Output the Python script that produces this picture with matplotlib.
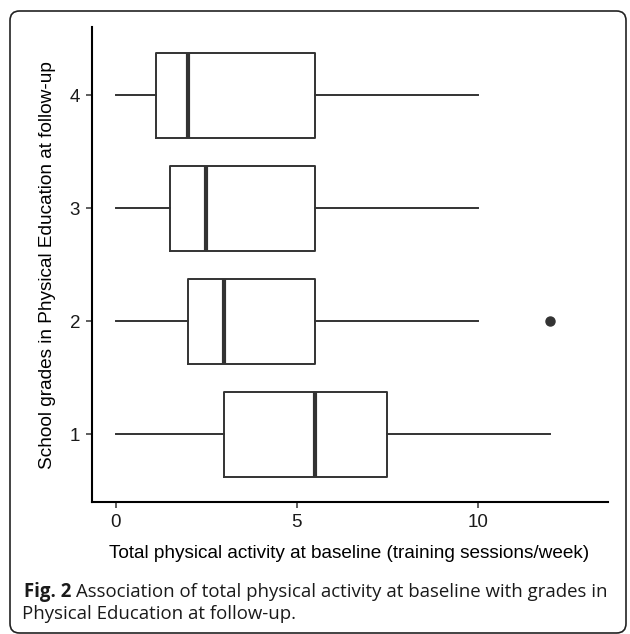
import matplotlib.pyplot as plt
from matplotlib.patches import FancyBboxPatch

# grades in PE at follow-up (y) vs training sessions/week at baseline (x)
grades = ['1', '2', '3', '4']
whisker_low = [0, 0, 0, 0]
q1 = [3, 2, 1.5, 1.1]
median = [5.5, 3, 2.5, 2]
q3 = [7.5, 5.5, 5.5, 5.5]
whisker_high = [12, 10, 10, 10]
outliers = [[], [12], [], []]

W, H = 630, 634
fig = plt.figure(figsize=(W / 100, H / 100), dpi=100)
ax = fig.add_axes([92 / W, 1 - 502.3 / H, (608 - 92) / W, (502.3 - 27.3) / H])

stats = []
for i, g in enumerate(grades):
    stats.append(dict(label=g, whislo=whisker_low[i], q1=q1[i], med=median[i],
                      q3=q3[i], whishi=whisker_high[i], fliers=outliers[i]))

box_col = '#333333'
ax.bxp(stats, positions=range(1, len(grades) + 1), widths=0.75,
       orientation='horizontal', showcaps=False,
       boxprops=dict(color=box_col, linewidth=1.4),
       whiskerprops=dict(color=box_col, linewidth=1.4),
       medianprops=dict(color=box_col, linewidth=3.0),
       flierprops=dict(marker='o', markerfacecolor=box_col, markeredgecolor=box_col,
                       markersize=6.5))

ax.set_xlim(-0.655, 13.6)
ax.set_ylim(0.4, 4.6)
ax.set_xticks([0, 5, 10])
ax.set_yticks(range(1, len(grades) + 1))
ax.set_yticklabels(grades)

for side in ['top', 'right']:
    ax.spines[side].set_visible(False)
for side in ['left', 'bottom']:
    ax.spines[side].set_linewidth(1.5)
    ax.spines[side].set_color('black')
ax.tick_params(length=4.5, width=1.1, color='#333333', labelsize=13.5,
               labelcolor='#1a1a1a', pad=4)
for lab in ax.get_xticklabels() + ax.get_yticklabels():
    lab.set_family('Liberation Sans')

fig.text(349 / W, 1 - 553 / H, 'Total physical activity at baseline (training sessions/week)',
         ha='center', va='center', fontsize=13.7, family='Liberation Sans', color='black')
fig.text(48 / W, 1 - 264.8 / H, 'School grades in Physical Education at follow-up',
         ha='center', va='center', rotation=90, fontsize=13.7, family='Liberation Sans',
         color='black')

# caption
cap_font = dict(family='Open Sans', fontsize=13.4, color='#1a1a1a')
r = fig.canvas.get_renderer()
t1 = fig.text(24 / W, 1 - 597 / H, 'Fig. 2', va='baseline', fontweight='bold', **cap_font)
bb = t1.get_window_extent(renderer=r)
fig.text(bb.x1 / W + 5 / W, 1 - 597 / H,
         'Association of total physical activity at baseline with grades in',
         va='baseline', **cap_font)
fig.text(22 / W, 1 - 619 / H, 'Physical Education at follow-up.', va='baseline', **cap_font)

# rounded frame around the figure
frame = FancyBboxPatch((10 / W, 1 - 633 / H), 616 / W, 622 / H,
                       boxstyle='round,pad=0,rounding_size=0.015',
                       transform=fig.transFigure, fill=False,
                       edgecolor='#222222', linewidth=1.2)
fig.patches.append(frame)

fig.savefig('out.png', dpi=100)
